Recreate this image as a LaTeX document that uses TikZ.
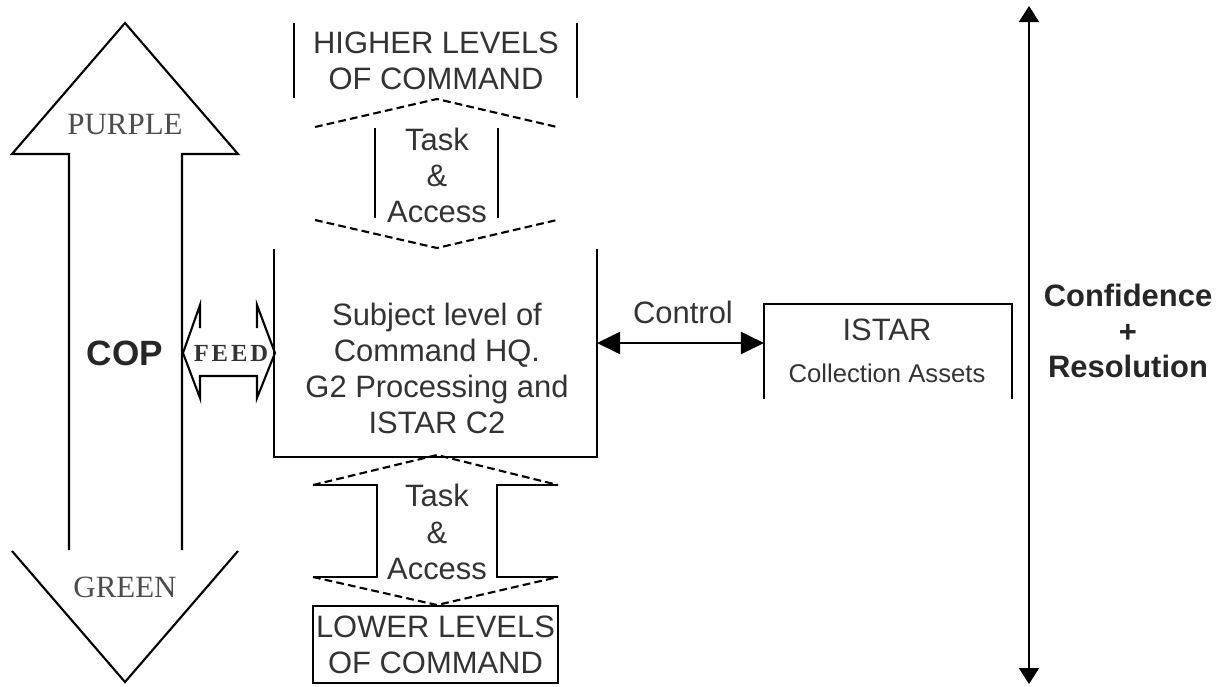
\documentclass[tikz,border=0pt]{standalone}
\usepackage{fontspec}
\setmainfont{Liberation Sans}
\newfontfamily\romanfont{Liberation Serif}
\newfontfamily\feedfont[LetterSpace=12]{Liberation Serif}
\usetikzlibrary{arrows.meta}

\begin{document}
\begin{tikzpicture}[line width=0.6pt,
    txt/.style={font=\fontsize{8.8}{10.3}\selectfont, align=center, text=black!80, inner sep=0pt},
    romtxt/.style={font=\romanfont\fontsize{8.8}{10}\selectfont, text=black!70, inner sep=0pt},
    boldtxt/.style={font=\bfseries\fontsize{8.8}{10.1}\selectfont, align=center, text=black!85, inner sep=0pt},
    dsh/.style={dash pattern=on 2.2pt off 1.2pt},
    ctlarrow/.style={>={Triangle[length=2.3mm,width=2.2mm]}, <->},
    scalearrow/.style={>={Triangle[length=1.6mm,width=2mm]}, <->}]
        \path[use as bounding box] (0,0) rectangle (12.21,6.86);
        \draw (0.69,1.36) -- (0.69,5.32) -- (0.12,5.32) -- (1.25,6.63) -- (2.38,5.32) -- (1.82,5.32) -- (1.82,1.36);
        \draw (0.12,1.35) -- (1.25,0.04) -- (2.38,1.35);
        \node[romtxt] (purple) at (1.25,5.61) {PURPLE};
        \node[romtxt] (green) at (1.25,0.99) {GREEN};
        \node[boldtxt, font=\bfseries\fontsize{10}{12}\selectfont] (cop) at (1.25,3.33) {COP};
        \draw (2.00,3.58) -- (2.00,3.81) -- (1.83,3.33) -- (2.00,2.88) -- (2.00,3.10) -- (2.57,3.10) -- (2.57,2.88) -- (2.75,3.33) -- (2.57,3.81) -- (2.57,3.58);
        \node[inner sep=0pt, text=black!80, font=\feedfont\bfseries\fontsize{7}{8}\selectfont] (feed) at (2.31,3.33) {FEED};
        \node[txt] (higher) at (4.36,6.255) {HIGHER LEVELS\\OF COMMAND};
        \draw (2.94,6.63) -- (2.94,5.88);
        \draw (5.77,6.63) -- (5.77,5.88);
        \draw[dsh] (3.15,5.59) -- (4.37,5.87) -- (5.57,5.59);
        \draw (3.75,5.58) -- (3.75,4.68);
        \draw (4.98,5.58) -- (4.98,4.68);
        \draw[dsh] (3.15,4.66) -- (4.37,4.38) -- (5.57,4.66);
        \node[txt] (taskup) at (4.37,5.105) {Task\\\&\\Access};
        \node[minimum width=3.21cm, minimum height=2.06cm, inner sep=0pt] (hq) at (4.355,3.33) {};
        \draw (hq.north west) -- (hq.south west) -- (hq.south east) -- (hq.north east);
        \node[txt] (hqtext) at (4.37,3.175) {Subject level of\\Command HQ.\\G2 Processing and\\ISTAR C2};
        \node[minimum width=2.46cm, minimum height=0.93cm, inner sep=0pt] (istar) at (8.88,3.345) {};
        \draw (istar.south west) -- (istar.north west) -- (istar.north east) -- (istar.south east);
        \node[txt] (istarlbl) at (8.87,3.56) {ISTAR};
        \node[txt, font=\fontsize{7.3}{8}\selectfont] (assets) at (8.87,3.13) {Collection Assets};
        \coordinate (ctl) at (0,3.43);
        \draw[ctlarrow] (hq.east |- ctl) -- (istar.west |- ctl);
        \node[txt] (ctllbl) at (6.83,3.74) {Control};
        \coordinate (top) at (10.29,6.80);
        \coordinate (bot) at (10.29,0.02);
        \draw[scalearrow] (top) -- (bot);
        \node[boldtxt] (conf) at (11.28,3.55) {Confidence\\+\\Resolution};
        \draw[dsh] (3.13,2.01) -- (4.37,2.31) -- (5.58,2.01);
        \draw (3.13,2.01) -- (3.77,2.01) -- (3.77,1.09) -- (3.13,1.09);
        \draw (5.58,2.01) -- (4.97,2.01) -- (4.97,1.09) -- (5.58,1.09);
        \draw[dsh] (3.13,1.09) -- (4.37,0.81) -- (5.58,1.09);
        \node[txt] (taskdown) at (4.37,1.54) {Task\\\&\\Access};
        \node[txt, draw, minimum width=2.45cm, minimum height=0.77cm] (lower) at (4.355,0.415) {LOWER LEVELS\\OF COMMAND};
    \end{tikzpicture}
\end{document}
